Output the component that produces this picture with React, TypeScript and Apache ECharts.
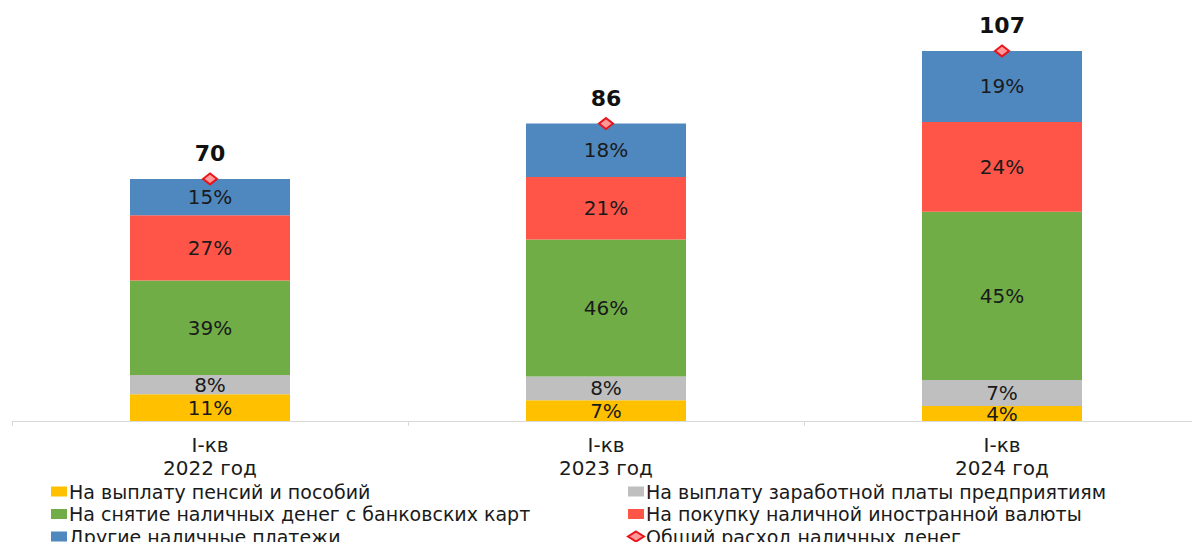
import React, { useEffect, useRef } from "react";
import * as echarts from "echarts";

const categories = ["I-кв\n2022 год", "I-кв\n2023 год", "I-кв\n2024 год"];
const totals = [70, 86, 107];
const pensionsPct = [11, 7, 4];
const salaryPct = [8, 8, 7];
const cardsPct = [39, 46, 45];
const currencyPct = [27, 21, 24];
const otherPct = [15, 18, 19];

const seriesNames = [
  "На выплату пенсий и пособий",
  "На выплату заработной платы предприятиям",
  "На снятие наличных денег с банковских карт",
  "На покупку наличной иностранной валюты",
  "Другие наличные платежи",
];
const totalName = "Общий расход наличных денег";
const colors = ["#FFC000", "#BFBFBF", "#70AD47", "#FF5548", "#4F88BF"];
const pctSets = [pensionsPct, salaryPct, cardsPct, currencyPct, otherPct];

const FONT = "DejaVu Sans, Verdana, sans-serif";

export default function App() {
  const ref = useRef<HTMLDivElement>(null);
  useEffect(() => {
    if (!ref.current) return;
    const chart = echarts.init(ref.current, null, { renderer: "svg" });
    const sums = totals.map((_, i) => pctSets.reduce((s, p) => s + p[i], 0));
    const barSeries = pctSets.map((pcts, si) => ({
      name: seriesNames[si],
      type: "bar",
      stack: "total",
      barWidth: 160,
      itemStyle: { color: colors[si] },
      label: {
        show: true,
        position: "inside",
        fontFamily: FONT,
        fontSize: 20,
        lineHeight: 16,
        color: "#1a1a1a",
        formatter: (p: any) => pcts[p.dataIndex] + "%",
      },
      data: pcts.map((v, i) => (totals[i] * v) / sums[i]),
    }));
    const legendText = { fontFamily: FONT, fontSize: 19, color: "#1a1a1a", padding: [0, 0, 0, -3] };
    chart.setOption({
      animation: false,
      grid: { left: 12, width: 1200, top: 6, bottom: 129 },
      legend: [
        {
          orient: "vertical",
          left: 46,
          top: 477,
          height: 80,
          itemWidth: 16,
          itemHeight: 10,
          itemGap: 3.5,
          textStyle: legendText,
          data: [seriesNames[0], seriesNames[2], seriesNames[4]].map((n) => ({ name: n, icon: "rect" })),
        },
        {
          orient: "vertical",
          left: 622,
          top: 477,
          height: 80,
          itemWidth: 16,
          itemHeight: 10,
          itemGap: 3.5,
          textStyle: legendText,
          data: [
            { name: seriesNames[1], icon: "rect" },
            { name: seriesNames[3], icon: "rect" },
            { name: totalName, icon: "diamond" },
          ],
        },
      ],
      xAxis: {
        type: "category",
        data: categories,
        axisLine: { lineStyle: { color: "#d9d9d9", width: 1 } },
        axisTick: { show: true, length: 5, lineStyle: { color: "#d9d9d9" } },
        axisLabel: {
          fontFamily: FONT,
          fontSize: 20,
          color: "#1a1a1a",
          lineHeight: 23,
          margin: 12,
        },
      },
      yAxis: { type: "value", min: 0, max: 120, show: false, splitLine: { show: false } },
      series: [
        ...barSeries,
        {
          name: totalName,
          type: "line",
          data: totals,
          symbol: "diamond",
          symbolSize: [14, 11],
          lineStyle: { opacity: 0 },
          itemStyle: { color: "#FF9999", borderColor: "#E8141B", borderWidth: 2 },
          label: {
            show: true,
            position: "top",
            distance: 8,
            fontFamily: FONT,
            fontSize: 22,
            fontWeight: "bold",
            color: "#111",
          },
          z: 10,
        },
      ],
    });
    return () => chart.dispose();
  }, []);
  return <div ref={ref} style={{ width: 1200, height: 550, margin: -8 }} />;
}
